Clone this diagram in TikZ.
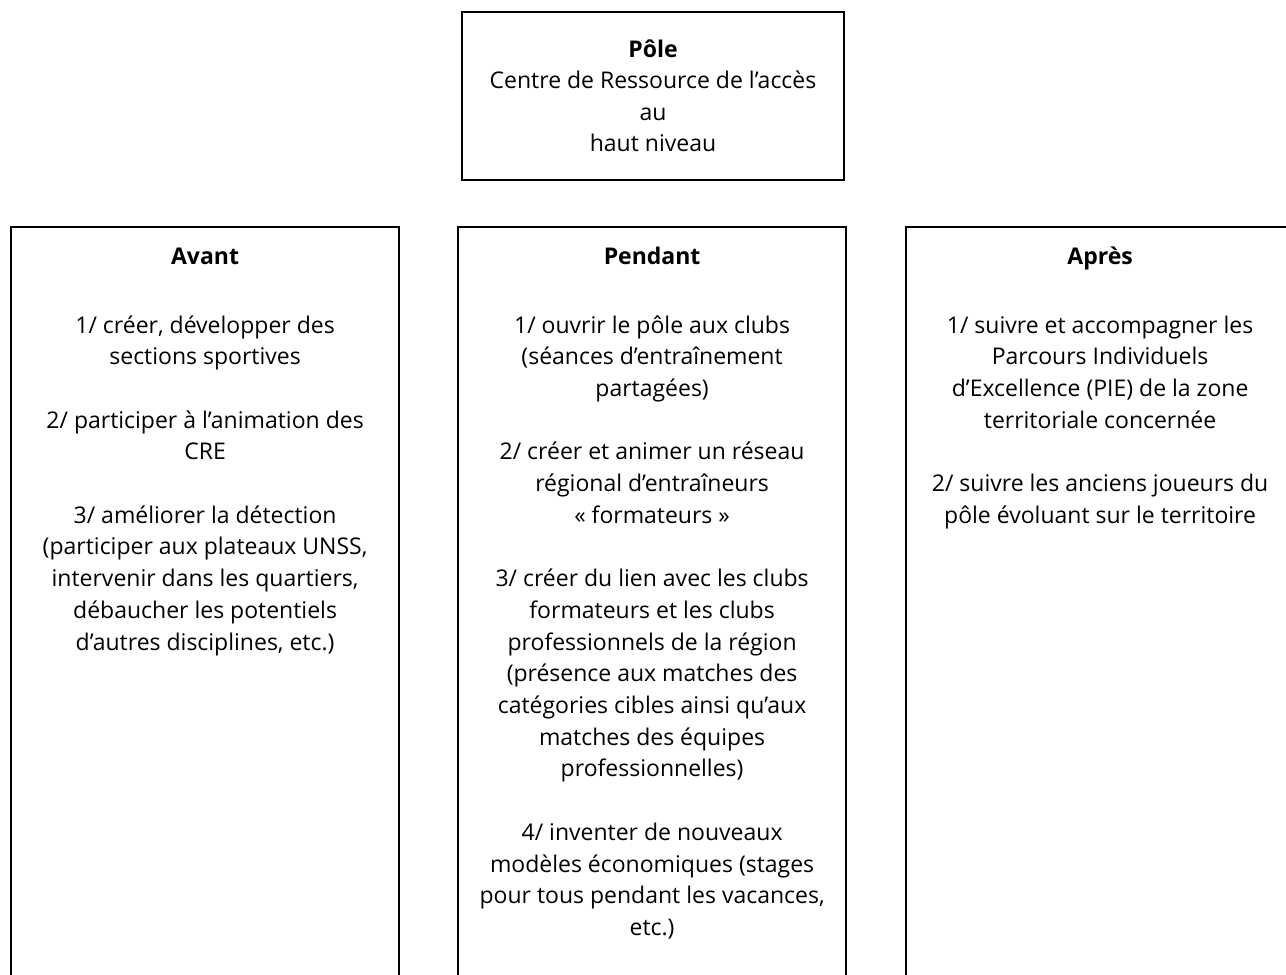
\documentclass[tikz,border=0pt]{standalone}
\usepackage{fontspec}
\setmainfont{Open Sans}
\usepackage{tikz}
\usetikzlibrary{positioning}
\tikzset{colbox/.style={draw, line width=2.2pt, minimum width=388pt, minimum height=820pt, anchor=north west, inner sep=0pt},
         coltext/.style={align=center, inner sep=0pt, anchor=north, font=\fontsize{23}{31.7}\selectfont}}

\begin{document}
\begin{tikzpicture}[x=1pt, y=-1pt, node distance=18pt]
\useasboundingbox (0,0) rectangle (1286,975);
\node[draw, line width=2.2pt, minimum width=382pt, minimum height=168pt, align=center, font=\fontsize{23}{31.5}\selectfont] (pole) at (653,96) {\textbf{Pôle}\\Centre de Ressource de l’accès\\au\\haut niveau};
\node[colbox] (avant) at (10,226) {};
\node[colbox] (pendant) at (457,226) {};
\node[colbox] (apres) at (905,226) {};
\node[coltext, below=16pt of avant.north] (tavant) {\strut\textbf{Avant}\\[37pt]1/ créer, développer des\\sections sportives\\[31.7pt]2/ participer à l’animation des\\CRE\\[31.7pt]3/ améliorer la détection\\(participer aux plateaux UNSS,\\intervenir dans les quartiers,\\débaucher les potentiels\\d’autres disciplines, etc.)};
\node[coltext, below=16pt of pendant.north] (tpendant) {\strut\textbf{Pendant}\\[37pt]1/ ouvrir le pôle aux clubs\\(séances d’entraînement\\partagées)\\[31.7pt]2/ créer et animer un réseau\\régional d’entraîneurs\\« formateurs »\\[31.7pt]3/ créer du lien avec les clubs\\formateurs et les clubs\\professionnels de la région\\(présence aux matches des\\catégories cibles ainsi qu’aux\\matches des équipes\\professionnelles)\\[31.7pt]4/ inventer de nouveaux\\modèles économiques (stages\\pour tous pendant les vacances,\\etc.)};
\node[coltext, below=16pt of apres.north] (tapres) {\strut\textbf{Après}\\[37pt]1/ suivre et accompagner les\\Parcours Individuels\\d’Excellence (PIE) de la zone\\territoriale concernée\\[31.7pt]2/ suivre les anciens joueurs du\\pôle évoluant sur le territoire};
\end{tikzpicture}
\end{document}
